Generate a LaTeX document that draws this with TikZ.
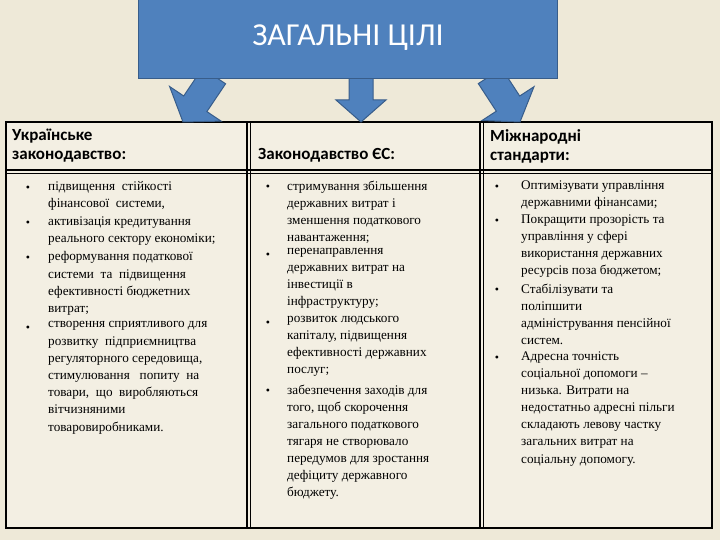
\documentclass[tikz,border=0pt]{standalone}
\usepackage{fontspec}
\setmainfont{Liberation Serif}
\newfontfamily\calfont{Carlito}
\definecolor{bg}{HTML}{EEE9D8}
\definecolor{cellbg}{HTML}{F3EFE3}
\definecolor{blu}{HTML}{4F81BD}
\definecolor{bluedge}{HTML}{385D8A}
\tikzset{
  fat/.style={fill=blu,draw=bluedge,line width=1pt},
  hdr/.style={anchor=west,font=\calfont\bfseries\fontsize{17}{19}\selectfont,align=left,inner sep=0pt},
  item/.style={anchor=north west,font=\fontsize{13.2}{17.2}\selectfont,align=left,inner sep=0pt},
  bul/.style={anchor=base,font=\fontsize{12}{14}\selectfont,inner sep=0pt},
  rule/.style={line width=1.2pt,black}
}
\begin{document}
\begin{tikzpicture}[x=1pt,y=-1pt]
\fill[bg] (0,0) rectangle (720,540);
\useasboundingbox (0,0) rectangle (720,540);
% table
\fill[cellbg] (6,122) rectangle (712,528);
\draw[rule] (6,122) rectangle (712,528);
\draw[rule] (6,170)--(712,170) (6,173.5)--(712,173.5);
\draw[rule] (247,122)--(247,528) (250.5,122)--(250.5,528);
\draw[rule] (480,122)--(480,528) (483.5,122)--(483.5,528);
% arrows
\draw[fat] (225.6,83.8)--(206.9,111.6)--(221.0,121.1)--(183,122)--(169.6,86.5)--(183.7,96.0)--(202.4,68.2)--cycle;
\draw[fat] (349,70)--(349,100)--(336,100)--(361,122)--(386,100)--(373,100)--(373,70)--cycle;
\draw[fat] (501.7,68.4)--(519.7,96.0)--(534,86.7)--(520,122)--(482,120.5)--(496.3,111.2)--(478.3,83.6)--cycle;
% title
\node[fill=blu,draw=bluedge,line width=1pt,minimum width=419pt,minimum height=82pt,anchor=north west,text=white,font=\calfont\fontsize{32}{36}\selectfont] (title) at (138,-4) {ЗАГАЛЬНІ ЦІЛІ};
% headers
\node[hdr] (h1) at (12,146) {Українське\\законодавство:};
\node[hdr] (h2) at (258,155) {Законодавство ЄС:};
\node[hdr] (h3) at (490,146) {Міжнародні\\стандарти:};
% left column
\foreach \y/\n in {191.5/a,226.5/b,261.5/c,331.5/d}{\node[bul] (b1\n) at (28,\y) {•};}
\node[item] (l1) at (48,181.5) {підвищення\ \ стійкості\\фінансової\ \ системи,};
\node[item] (l2) at (48,216.5) {активізація кредитування\\реального сектору економіки;};
\node[item] (l3) at (48,251.5) {реформування податкової\\системи\ \ та\ \ підвищення\\ефективності бюджетних\\витрат;};
\node[item] (l4) at (48,321.5) {створення сприятливого для\\розвитку\ \ підприємництва\\регуляторного середовища,\\стимулювання\ \ \ попиту\ \ на\\товари,\ \ що\ \ виробляються\\вітчизняними\\товаровиробниками.};
% middle column
\foreach \y/\n in {190.5/a,258.5/b,326.5/c,394.5/d}{\node[bul] (b2\n) at (268,\y) {•};}
\node[item,font=\fontsize{13.2}{17}\selectfont] (m1) at (287,180.5) {стримування збільшення\\державних витрат і\\зменшення податкового\\навантаження;};
\node[item,font=\fontsize{13.2}{17}\selectfont] (m2) at (287,248.5) {перенаправлення\\державних витрат на\\інвестиції в\\інфраструктуру;};
\node[item,font=\fontsize{13.2}{17}\selectfont] (m3) at (287,316.5) {розвиток людського\\капіталу, підвищення\\ефективності державних\\послуг;};
\node[item,font=\fontsize{13.2}{17}\selectfont] (m4) at (287,384.5) {забезпечення заходів для\\того, щоб скорочення\\загального податкового\\тягаря не створювало\\передумов для зростання\\дефіциту державного\\бюджету.};
% right column
\foreach \y/\n in {190.5/a,224.5/b,293.5/c,361.5/d}{\node[bul] (b3\n) at (497,\y) {•};}
\node[item,font=\fontsize{13.2}{17.1}\selectfont] (r1) at (521,180.5) {Оптимізувати управління\\державними фінансами;};
\node[item,font=\fontsize{13.2}{17.1}\selectfont] (r2) at (521,214.5) {Покращити прозорість та\\управління у сфері\\використання державних\\ресурсів поза бюджетом;};
\node[item,font=\fontsize{13.2}{17.1}\selectfont] (r3) at (521,283.5) {Стабілізувати та\\поліпшити\\адміністрування пенсійної\\систем.};
\node[item,font=\fontsize{13.2}{17.1}\selectfont] (r4) at (521,351.5) {Адресна точність\\соціальної допомоги –\\низька. Витрати на\\недостатньо адресні пільги\\складають левову частку\\загальних витрат на\\соціальну допомогу.};
\end{tikzpicture}
\end{document}
